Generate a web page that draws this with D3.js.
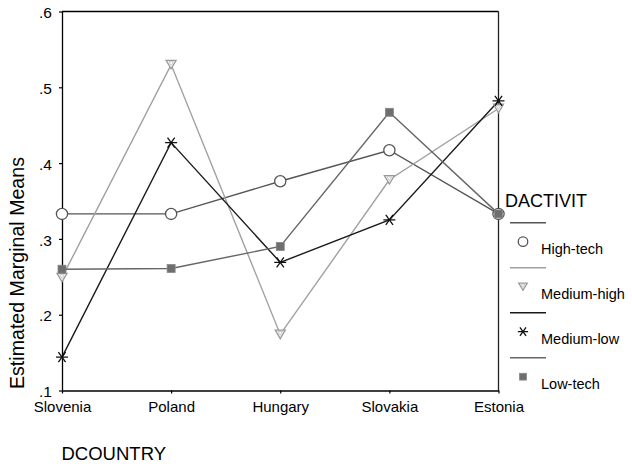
<!DOCTYPE html>
<html>
<head>
<meta charset="utf-8">
<script src="https://cdn.jsdelivr.net/npm/d3@7"></script>
<style>
  html, body { margin: 0; padding: 0; background: #fff; }
  svg { display: block; font-family: "Liberation Sans", Arial, sans-serif; }
</style>
</head>
<body>
<svg id="chart" width="632" height="467"></svg>
<script>
// ---- data ----
const countries = ["Slovenia", "Poland", "Hungary", "Slovakia", "Estonia"];
const seriesNames = ["High-tech", "Medium-high", "Medium-low", "Low-tech"];
const highTech   = [0.333, 0.333, 0.376, 0.417, 0.333];
const mediumHigh = [0.249, 0.530, 0.174, 0.378, 0.472];
const mediumLow  = [0.144, 0.427, 0.269, 0.325, 0.482];
const lowTech    = [0.260, 0.261, 0.290, 0.467, 0.333];
const yTicks = [0.1, 0.2, 0.3, 0.4, 0.5, 0.6];
const yTickLabels = [".1", ".2", ".3", ".4", ".5", ".6"];
const xTitle = "DCOUNTRY";
const yTitle = "Estimated Marginal Means";
const legendTitle = "DACTIVIT";

// ---- styles ----
const styles = [
  { line: "#555555", marker: "circle" },
  { line: "#a0a0a0", marker: "triangle" },
  { line: "#1a1a1a", marker: "asterisk" },
  { line: "#666666", marker: "square" }
];
const seriesValues = [highTech, mediumHigh, mediumLow, lowTech];

const svg = d3.select("#chart");
const pLeft = 62, pRight = 498.5, pTop = 11.5, pBottom = 390.5;

const x = d3.scalePoint().domain(countries).range([pLeft, pRight]).padding(0);
const y = d3.scaleLinear().domain([0.1, 0.6]).range([pBottom, pTop]);

// frame (top and right)
svg.append("line").attr("x1", pLeft).attr("x2", pRight).attr("y1", pTop).attr("y2", pTop)
  .attr("stroke", "#000").attr("stroke-width", 1.3);
svg.append("line").attr("x1", pRight).attr("x2", pRight).attr("y1", pTop).attr("y2", pBottom)
  .attr("stroke", "#222").attr("stroke-width", 1.3);

// axes
const yAxis = d3.axisLeft(y).tickValues(yTicks)
  .tickFormat((d, i) => yTickLabels[i]).tickSizeInner(3).tickSizeOuter(0).tickPadding(7);
const gy = svg.append("g").attr("transform", `translate(${pLeft},0)`).call(yAxis);
gy.select(".domain").attr("stroke", "#000").attr("stroke-width", 1.3);
gy.selectAll(".tick line").attr("stroke", "#000").attr("stroke-width", 1.2);
gy.selectAll(".tick text").attr("font-size", 15.5).attr("fill", "#000")
  .attr("font-family", "Liberation Sans, Arial, sans-serif").attr("dy", "0.4em");

const xAxis = d3.axisBottom(x).tickSizeInner(3).tickSizeOuter(0).tickPadding(0);
const gx = svg.append("g").attr("transform", `translate(0,${pBottom})`).call(xAxis);
gx.select(".domain").attr("stroke", "#000").attr("stroke-width", 1.3);
gx.selectAll(".tick line").attr("stroke", "#000").attr("stroke-width", 1.2);
gx.selectAll(".tick text").attr("font-size", 15).attr("fill", "#000")
  .attr("font-family", "Liberation Sans, Arial, sans-serif").attr("y", 21.5).attr("dy", 0);

// titles
svg.append("text").attr("transform", `translate(23.5,389) rotate(-90)`)
  .attr("text-anchor", "start").attr("font-size", 19.6).attr("fill", "#000").text(yTitle);
svg.append("text").attr("x", 61.5).attr("y", 460)
  .attr("font-size", 18.5).attr("fill", "#000").text(xTitle);

// marker drawing
function drawMarker(g, type, cx, cy, scale) {
  const s = scale || 1;
  if (type === "circle") {
    g.append("circle").attr("cx", cx).attr("cy", cy).attr("r", 5.6 * s)
      .attr("fill", "#fff").attr("stroke", "#555").attr("stroke-width", 1.3);
  } else if (type === "triangle") {
    const w = 5 * s, h = 8.5 * s;
    const p = [[cx - w, cy - h / 2], [cx + w, cy - h / 2], [cx, cy + h / 2]];
    g.append("path").attr("d", "M" + p.map(q => q.join(",")).join("L") + "Z")
      .attr("fill", "#fff").attr("stroke", "#999").attr("stroke-width", 1.3);
    const w2 = w * 0.45, h2 = h * 0.45;
    const p2 = [[cx - w2, cy - h2 / 2 - 1 * s], [cx + w2, cy - h2 / 2 - 1 * s], [cx, cy + h2 / 2 - 1 * s]];
    g.append("path").attr("d", "M" + p2.map(q => q.join(",")).join("L") + "Z")
      .attr("fill", "none").attr("stroke", "#bbb").attr("stroke-width", 0.8);
  } else if (type === "asterisk") {
    const a = 6 * s, dx = 3.6 * s, dy = 5 * s;
    const d = `M${cx - a},${cy}L${cx + a},${cy}M${cx - dx},${cy - dy}L${cx + dx},${cy + dy}M${cx - dx},${cy + dy}L${cx + dx},${cy - dy}`;
    g.append("path").attr("d", d).attr("fill", "none").attr("stroke", "#111").attr("stroke-width", 1.3);
  } else if (type === "square") {
    const h = 4 * s;
    g.append("rect").attr("x", cx - h).attr("y", cy - h).attr("width", 2 * h).attr("height", 2 * h)
      .attr("fill", "#6e6e6e").attr("stroke", "#888").attr("stroke-width", 0.8);
  }
}

// series lines
const line = d3.line().x((d, i) => x(countries[i])).y(d => y(d));
const plot = svg.append("g");
seriesValues.forEach((vals, k) => {
  plot.append("path").datum(vals).attr("d", line)
    .attr("fill", "none").attr("stroke", styles[k].line).attr("stroke-width", 1.4);
});
seriesValues.forEach((vals, k) => {
  const g = plot.append("g");
  vals.forEach((v, i) => drawMarker(g, styles[k].marker, x(countries[i]), y(v), 1));
});

// legend
const lg = svg.append("g");
lg.append("text").attr("x", 505).attr("y", 206.5).attr("font-size", 18).attr("fill", "#000").text(legendTitle);
seriesNames.forEach((name, k) => {
  const base = 222.7 + k * 45;
  lg.append("line").attr("x1", 510).attr("x2", 546).attr("y1", base).attr("y2", base)
    .attr("stroke", styles[k].line).attr("stroke-width", 1.4);
  drawMarker(lg, styles[k].marker, 523, base + 19, 0.85);
  lg.append("text").attr("x", 541).attr("y", base + 31.5).attr("font-size", 14.5)
    .attr("fill", "#000").text(name);
});
</script>
</body>
</html>
